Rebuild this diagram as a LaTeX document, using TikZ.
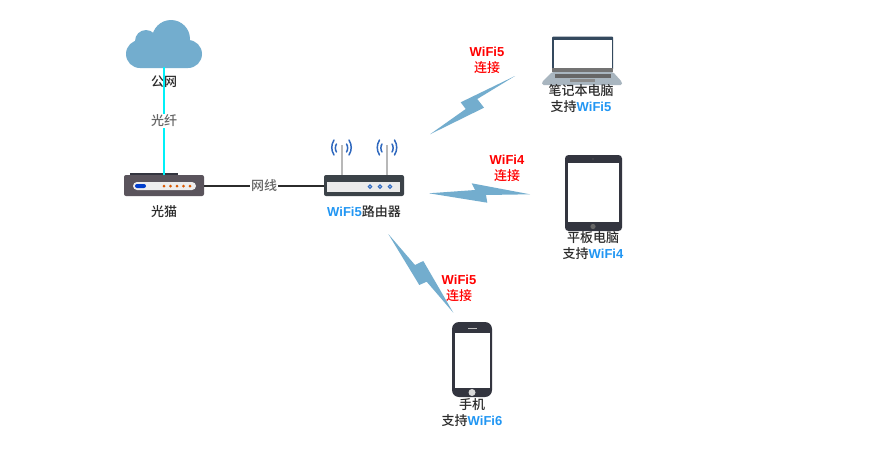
\documentclass[tikz,border=0pt]{standalone}
\usepackage{fontspec}
\setmainfont{Noto Sans CJK SC}[UprightFont=* Medium]
\newfontfamily\latinface{Liberation Sans}
\usepackage{tikz}
\definecolor{boltblue}{HTML}{73ADCE}
\definecolor{wifiblue}{HTML}{2196F3}
\definecolor{fibercyan}{HTML}{00F0F8}
\definecolor{wavekblue}{HTML}{2F68BE}
\definecolor{darkframe}{HTML}{33353F}
\definecolor{routerbody}{HTML}{3B4248}
\definecolor{modembody}{HTML}{5A545C}
\definecolor{laptopframe}{HTML}{34495E}
\definecolor{laptopbase}{HTML}{A9B6C0}
\definecolor{textdark}{HTML}{2B2B2B}
\newcommand{\wifi}[1]{{\latinface\bfseries\textcolor{wifiblue}{#1}}}
\newcommand{\wifired}[1]{{\latinface\bfseries #1}}
\tikzset{
  devtext/.style={text=textdark,align=center,inner sep=0pt,font=\fontsize{13}{16}\selectfont},
  linktext/.style={text=red,align=center,inner sep=0pt,font=\fontsize{13}{16}\selectfont},
  cabletext/.style={fill=white,text=black!60,inner sep=1pt,font=\fontsize{13}{15}\selectfont},
  bolt/.style={fill=boltblue,draw=none},
  radiowave/.style={draw=wavekblue,line width=1.5pt,line cap=round}
}

\begin{document}
\begin{tikzpicture}[x=1pt,y=-1pt]
  \useasboundingbox[fill=white] (0,0) rectangle (895,453);

  %cloud
  \coordinate (cloud) at (164,67);
  \fill[boltblue] (140,54) circle[radius=14pt] (188,54) circle[radius=14pt]
    (171,39) circle[radius=19pt] (146,41) circle[radius=11pt] (140,45) rectangle (188,68);
  \node[devtext,name=cloudtext,at={(164,82)}]{公网};

  %modem
  \fill[darkframe] (130,173) rectangle (178,177);
  \node[name=modem,at={(164,185.5)},fill=modembody,rounded corners=2pt,minimum width=80pt,minimum height=21pt,inner sep=0pt]{};
  \fill[white!93!black,rounded corners=4pt] (133,182) rectangle (196,190);
  \fill[blue!70!cyan!80!black,rounded corners=2pt] (135,184) rectangle (146,188);
  \foreach \dotx in {164,170.5,177,183.5,190}
    \fill[orange!80!red!85!black] (\dotx,186) circle[radius=1.5pt];
  \node[devtext,name=modemtext,at={(164,212)}]{光猫};

  %router
  \foreach \antx in {341.5,387}{
    \draw[black!28,line width=2pt] (\antx,145) -- (\antx,177);
    \draw[radiowave] (\antx-5,144) .. controls (\antx-6.5,146) and (\antx-6.5,150) .. (\antx-5,152);
    \draw[radiowave] (\antx+5,144) .. controls (\antx+6.5,146) and (\antx+6.5,150) .. (\antx+5,152);
    \draw[radiowave] (\antx-7.5,140) .. controls (\antx-10.5,145) and (\antx-10.5,150) .. (\antx-7.5,155);
    \draw[radiowave] (\antx+7.5,140) .. controls (\antx+10.5,145) and (\antx+10.5,150) .. (\antx+7.5,155);
  }
  \node[name=router,at={(364,185.5)},fill=routerbody,rounded corners=2pt,minimum width=80pt,minimum height=21pt,inner sep=0pt]{};
  \fill[white!92!black] (327,182) rectangle (400,191.5);
  \foreach \dotx in {370,380,390}
    \draw[wavekblue,line width=1.1pt,fill=white] (\dotx,186.7) circle[radius=1.7pt];
  \node[devtext,name=routertext,at={(364,212)}]{\wifi{WiFi5}路由器};

  %cables
  \draw[fibercyan,line width=2pt] (cloud) -- (modem.north) node[cabletext,name=fibertext,midway]{光纤};
  \draw[textdark,line width=2pt] (modem.east) -- (router.west) node[cabletext,name=nettext,midway]{网线};

  %top right
  \fill[bolt] (430,134.3) -- (465.7,109) -- (460.7,102.3) -- (515,76) -- (477.3,99) -- (484,107.7) -- cycle;
  \node[linktext,name=linklaptop,at={(487,60)}]{\wifired{WiFi5}\\连接};
  \fill[laptopframe,rounded corners=1pt] (552,36.5) rectangle (613,70);
  \fill[white] (554,39.5) rectangle (612,68);
  \fill[black!55] (552,68) rectangle (613,72);
  \fill[laptopbase,rounded corners=1.5pt] (552,72) -- (613,72) -- (622,82) -- (622,85) -- (542,85) -- (542,82) -- cycle;
  \fill[black!60] (555,73.5) rectangle (611,78);
  \fill[black!45] (570,79) rectangle (595,82);
  \node[devtext,name=laptoptext,at={(581,99)}]{笔记本电脑\\支持\wifi{WiFi5}};

  %middle right
  \fill[bolt] (429,193.3) -- (475,190) -- (471.7,183.3) -- (530,194.3) -- (486,195) -- (487.3,202.7) -- cycle;
  \node[linktext,name=linktablet,at={(507,168)}]{\wifired{WiFi4}\\连接};
  \fill[darkframe,rounded corners=3.5pt] (565,155) rectangle (622,231);
  \fill[white] (568,163) rectangle (619,222);
  \fill[black!60] (593,226.5) circle[radius=2.6pt];
  \fill[black!60] (593,159) circle[radius=0.7pt];
  \node[devtext,name=tablettext,at={(593,246)}]{平板电脑\\支持\wifi{WiFi4}};

  %bottom
  \fill[bolt] (388.3,234) -- (415,265) -- (423.3,261) -- (453.3,312.7) -- (426.7,281.7) -- (419.3,285) -- cycle;
  \node[linktext,name=linkphone,at={(459,288)}]{\wifired{WiFi5}\\连接};
  \fill[darkframe,rounded corners=7pt] (452,322) rectangle (492,397);
  \fill[white] (454.5,332.7) rectangle (490,388);
  \fill[black!15] (472,392.5) circle[radius=3.5pt];
  \fill[black!25] (468,327.5) rectangle (477,328.7);
  \node[devtext,name=phonetext,at={(472,413)}]{手机\\支持\wifi{WiFi6}};
\end{tikzpicture}
\end{document}
